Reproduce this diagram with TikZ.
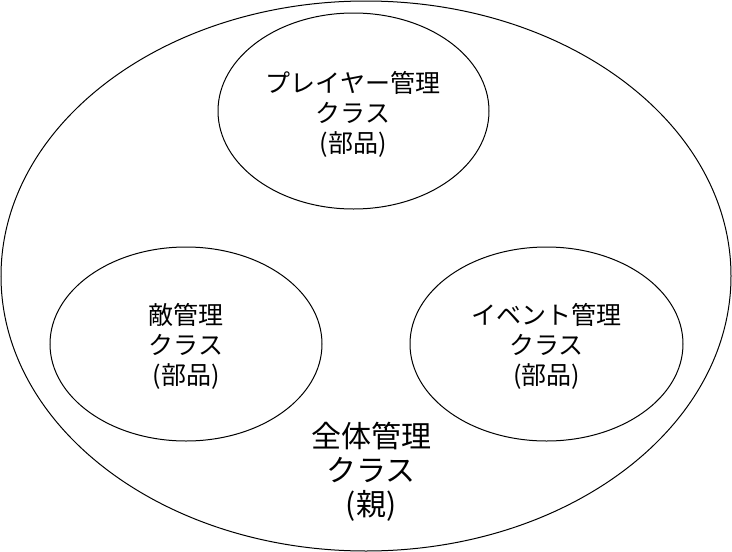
\documentclass[tikz,border=0pt]{standalone}
\usepackage{fontspec}
\setmainfont{Noto Sans CJK JP}
\usetikzlibrary{shapes.geometric}
\begin{document}
\begin{tikzpicture}[x=1pt,y=-1pt,
  blob/.style={draw=black,line width=1pt,ellipse,inner sep=0pt},
  small/.style={align=center,inner sep=0pt,font=\fontsize{25}{30}\selectfont},
  big/.style={align=center,inner sep=0pt,font=\fontsize{30}{34}\selectfont}]
\useasboundingbox (0,0) rectangle (732,552);
\node[blob,minimum width=730pt,minimum height=550pt] (whole) at (366,276) {};
\node[blob,minimum width=271pt,minimum height=196pt] (player) at (353.5,111) {};
\node[blob,minimum width=272pt,minimum height=194pt] (enemy) at (186,344) {};
\node[blob,minimum width=273pt,minimum height=194pt] (event) at (546.5,344) {};
\node[small] (playert) at (353,114) {プレイヤー管理\\クラス\\(部品)};
\node[small] (enemyt) at (186,346) {敵管理\\クラス\\(部品)};
\node[small] (eventt) at (546.5,346) {イベント管理\\クラス\\(部品)};
\node[big] (wholet) at (371,472) {全体管理\\クラス\\(親)};
\end{tikzpicture}
\end{document}
